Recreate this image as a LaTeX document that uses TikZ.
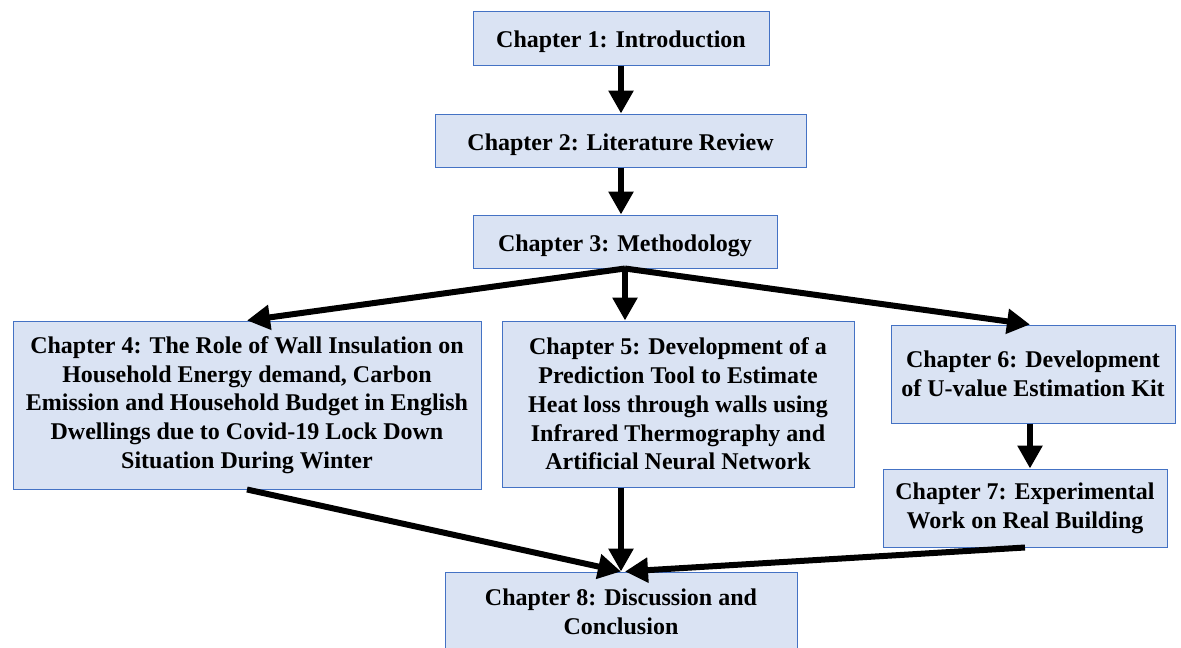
\documentclass[tikz,border=0pt]{standalone}
\usepackage{fontspec}
\setmainfont{Liberation Serif}
\usetikzlibrary{arrows.meta}
\definecolor{boxfill}{HTML}{DAE3F3}
\definecolor{boxline}{HTML}{4472C4}
\tikzset{
  chapter/.style={draw=boxline, line width=1pt, fill=boxfill, rectangle,
    align=center, inner sep=0pt, font=\fontsize{24}{28.8}\selectfont\bfseries},
  oneline/.style={text height=21pt, text depth=2pt},
  flow/.style={line width=6pt, -{Triangle[length=23pt 0, width=24pt 0]}}
}
\begin{document}
\begin{tikzpicture}[x=1pt, y=-1pt]
\useasboundingbox (0,0) rectangle (1181,648);
\clip (0,0) rectangle (1181,648);
% chapter boxes
\node[chapter, oneline, minimum width=296pt, minimum height=54pt] (b1) at (621,38) {Chapter 1: Introduction};
\node[chapter, oneline, minimum width=371pt, minimum height=53pt] (b2) at (620.5,140.5) {Chapter 2: Literature Review};
\node[chapter, oneline, minimum width=304pt, minimum height=53pt] (b3) at (625,241.5) {Chapter 3: Methodology};
\node[chapter, minimum width=468pt, minimum height=168pt] (b4) at (247,405) {Chapter 4: The Role of Wall Insulation on\\Household Energy demand, Carbon\\Emission and Household Budget in English\\Dwellings due to Covid-19 Lock Down\\Situation During Winter};
\node[chapter, minimum width=352pt, minimum height=166pt] (b5) at (678,404) {Chapter 5: Development of a\\Prediction Tool to Estimate\\Heat loss through walls using\\Infrared Thermography and\\Artificial Neural Network};
\node[chapter, minimum width=284pt, minimum height=98pt] (b6) at (1033,374) {Chapter 6: Development\\of U-value Estimation Kit};
\node[chapter, minimum width=284pt, minimum height=78pt] (b7) at (1025,508) {Chapter 7: Experimental\\Work on Real Building};
\node[chapter, minimum width=352pt, minimum height=80pt] (b8) at (621,612) {Chapter 8: Discussion and\\Conclusion};
% connectors
\draw[flow] (b1.south -| b8.north) -- (b2.north -| b8.north);
\draw[flow] (b2.south -| b8.north) -- (b3.north -| b8.north);
\draw[flow] (b3.south) -- (b4.north);
\draw[flow] (b3.south) -- (b3.south |- b5.north);
\draw[flow] (b3.south) -- ([xshift=-3pt]b6.north);
\draw[flow] ([xshift=-3pt]b6.south) -- ([xshift=-3pt]b6.south |- b7.north);
\draw[flow] (b4.south) -- (b8.north);
\draw[flow] (b8.north |- b5.south) -- (b8.north);
\draw[flow] (b7.south) -- ([xshift=4pt]b8.north);
\end{tikzpicture}
\end{document}
